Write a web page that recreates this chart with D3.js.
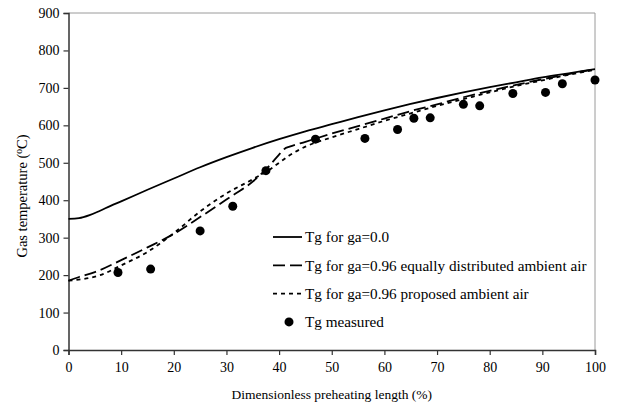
<!DOCTYPE html>
<html>
<head>
<meta charset="utf-8">
<script src="https://cdn.jsdelivr.net/npm/d3@7"></script>
<style>
  body { margin: 0; background: #fff; }
  svg text { font-family: "Liberation Serif", "DejaVu Serif", serif; fill: #000; }
</style>
</head>
<body>
<div id="chart"></div>
<script>
// solid line, ga = 0.0
var xNoAir = [0, 2, 4, 6, 8, 10, 15, 20, 25, 30, 35, 40, 45, 50, 55, 60, 65, 70, 75, 80, 85, 90, 95, 100];
var tNoAir = [350, 352, 360, 372, 385, 397, 428, 458, 488, 515, 540, 563, 584, 603, 622, 640, 657, 673, 688, 702, 715, 728, 739, 750];

// long dashes, ga = 0.96 equally distributed
var xEqual = [0, 2, 5, 10, 15, 20, 25, 30, 35, 38, 40, 41, 42, 45, 50, 55, 60, 65, 70, 75, 80, 85, 90, 95, 100];
var tEqual = [185, 195, 208, 240, 274, 310, 355, 402, 450, 490, 522, 537, 543, 556, 578, 598, 618, 638, 656, 675, 692, 708, 723, 737, 750];

// short dashes, ga = 0.96 proposed
var xProposed = [0, 3, 6, 10, 15, 20, 25, 30, 35, 38, 40, 42, 45, 50, 55, 60, 65, 70, 75, 80, 85, 90, 95, 100];
var tProposed = [185, 190, 200, 226, 262, 312, 370, 418, 456, 480, 500, 520, 543, 568, 590, 612, 632, 652, 670, 688, 705, 720, 735, 748];

// measured points
var xMeasured = [9.4, 15.6, 25, 31.2, 37.5, 46.9, 56.3, 62.5, 65.6, 68.7, 75, 78.1, 84.4, 90.6, 93.8, 100];
var tMeasured = [207, 216, 318, 384, 479, 563, 565, 589, 619, 620, 656, 652, 685, 688, 711, 721];

var xTicks = [0, 10, 20, 30, 40, 50, 60, 70, 80, 90, 100];
var yTicks = [0, 100, 200, 300, 400, 500, 600, 700, 800, 900];

var legendNames = [
  "Tg for ga=0.0",
  "Tg for ga=0.96 equally distributed ambient air",
  "Tg for ga=0.96 proposed ambient air",
  "Tg measured"
];

var width = 619, height = 407;
var margin = {left: 68.5, right: 24, top: 13, bottom: 57};

var svg = d3.select("#chart").append("svg")
  .attr("width", width)
  .attr("height", height);

var x = d3.scaleLinear().domain([0, 100]).range([margin.left, width - margin.right]);
var y = d3.scaleLinear().domain([0, 900]).range([height - margin.bottom, margin.top]);

// frame on top and right
svg.append("path")
  .attr("d", "M" + x(0) + "," + y(900) + "H" + x(100) + "V" + y(0))
  .attr("fill", "none")
  .attr("stroke", "#9a9a9a")
  .attr("stroke-width", 1);

// axes
var xAxis = svg.append("g")
  .attr("transform", "translate(0," + y(0) + ")")
  .call(d3.axisBottom(x).tickValues(xTicks).tickSize(5).tickPadding(7).tickFormat(d3.format("d")));
var yAxis = svg.append("g")
  .attr("transform", "translate(" + x(0) + ",0)")
  .call(d3.axisLeft(y).tickValues(yTicks).tickSize(5).tickPadding(4).tickFormat(d3.format("d")));

[xAxis, yAxis].forEach(function(g) {
  g.attr("font-family", null);
  g.select(".domain").attr("stroke", "#333").attr("stroke-width", 1.5);
  g.selectAll(".tick line").attr("stroke", "#333").attr("stroke-width", 1.2);
  g.selectAll("text").style("font-size", "14px").attr("fill", "#000");
});

// axis titles
svg.append("text")
  .attr("x", (x(0) + x(100)) / 2)
  .attr("y", 399)
  .attr("text-anchor", "middle")
  .style("font-size", "13.5px")
  .text("Dimensionless preheating length (%)");

var yTitle = svg.append("text")
  .attr("transform", "translate(27,196) rotate(-90)")
  .attr("text-anchor", "middle")
  .style("font-size", "14.5px");
yTitle.append("tspan").text("Gas temperature (");
yTitle.append("tspan").attr("dy", -5).style("font-size", "9.5px").text("o");
yTitle.append("tspan").attr("dy", 5).text("C)");

// curves
function zip(xs, ys) { return xs.map(function(v, i) { return [v, ys[i]]; }); }
var line = d3.line()
  .x(function(d) { return x(d[0]); })
  .y(function(d) { return y(d[1]); })
  .curve(d3.curveMonotoneX);

var series = [
  {data: zip(xNoAir, tNoAir), dash: null},
  {data: zip(xEqual, tEqual), dash: "12,5"},
  {data: zip(xProposed, tProposed), dash: "4,4"}
];

series.forEach(function(s) {
  svg.append("path")
    .attr("d", line(s.data))
    .attr("fill", "none")
    .attr("stroke", "#000")
    .attr("stroke-width", 1.8)
    .attr("stroke-dasharray", s.dash);
});

svg.selectAll("circle.measured")
  .data(zip(xMeasured, tMeasured))
  .enter()
  .append("circle")
  .attr("class", "measured")
  .attr("cx", function(d) { return x(d[0]); })
  .attr("cy", function(d) { return y(d[1]); })
  .attr("r", 4.5)
  .attr("fill", "#000");

// legend
var legend = svg.append("g").attr("transform", "translate(273,237)");
legendNames.forEach(function(name, i) {
  var g = legend.append("g").attr("transform", "translate(0," + (i * 28.3) + ")");
  if (i < 3) {
    g.append("line")
      .attr("x1", 0).attr("x2", 29)
      .attr("stroke", "#000")
      .attr("stroke-width", 1.8)
      .attr("stroke-dasharray", series[i].dash);
  } else {
    g.append("circle").attr("cx", 16).attr("r", 4.5).attr("fill", "#000");
  }
  g.append("text")
    .attr("x", 32)
    .attr("dy", "0.35em")
    .style("font-size", "15.2px")
    .text(name);
});
</script>
</body>
</html>
